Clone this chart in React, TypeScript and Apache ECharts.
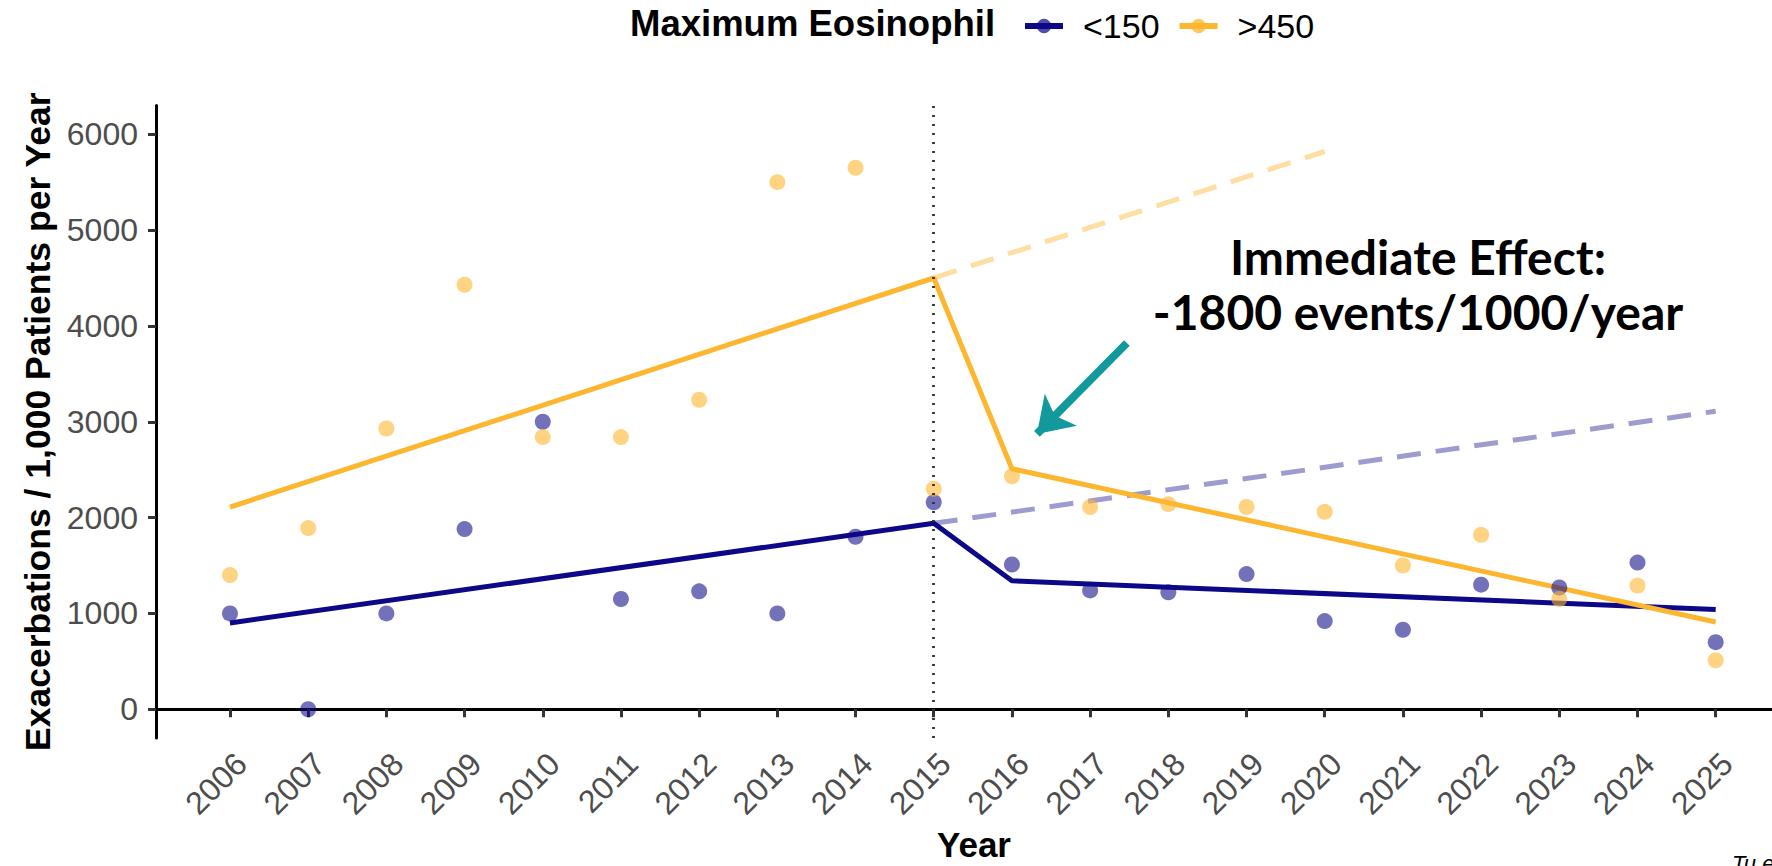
import React, { useEffect, useRef } from "react";
import * as echarts from "echarts";

// Observed yearly exacerbation rates (per 1,000 patients per year)
const years = [2006, 2007, 2008, 2009, 2010, 2011, 2012, 2013, 2014, 2015, 2016, 2017, 2018, 2019, 2020, 2021, 2022, 2023, 2024, 2025];
const lowEos = [1000, 0, 1000, 1880, 3000, 1150, 1230, 1000, 1800, 2160, 1510, 1240, 1220, 1410, 920, 830, 1300, 1270, 1530, 700];
const highEos = [1400, 1890, 2930, 4430, 2840, 2840, 3230, 5500, 5650, 2300, 2430, 2110, 2140, 2110, 2060, 1500, 1820, 1150, 1290, 510];

// Segmented-regression fits: [year, rate]
const lowFit = [[2006, 900], [2015, 1940], [2016, 1340], [2025, 1040]];
const highFit = [[2006, 2110], [2015, 4500], [2016, 2510], [2025, 910]];
// Projected pre-intervention trends
const lowTrend = [[2015, 1940], [2025, 3110]];
const highTrend = [[2015, 4500], [2020, 5820]];

const yTicks = [0, 1000, 2000, 3000, 4000, 5000, 6000];
const seriesNames = ["<150", ">450"];
const interventionYear = 2015;

const NAVY = "#0D0887";
const GOLD = "#FDB62F";
const NAVY_PT = "rgba(13,8,135,0.72)";
const GOLD_PT = "rgba(253,182,47,0.75)";
const SANS = "'Liberation Sans', Arial, Helvetica, sans-serif";

export default function App() {
  const ref = useRef<HTMLDivElement>(null);

  useEffect(() => {
    if (!ref.current) return;
    const chart = echarts.init(ref.current, null, { renderer: "svg" });

    const option = {
      animation: false,
      backgroundColor: "#ffffff",
      grid: { left: 156, right: 0, top: 105.5, bottom: 128, containLabel: false, outerBoundsMode: "none" },
      legend: {
        data: [
          { name: seriesNames[0], lineStyle: { color: NAVY, width: 6 }, itemStyle: { color: NAVY_PT } },
          { name: seriesNames[1], lineStyle: { color: GOLD, width: 6 }, itemStyle: { color: GOLD_PT } },
        ],
        left: 1017,
        top: 4,
        itemWidth: 38,
        itemHeight: 18,
        itemGap: 17,
        textStyle: { fontSize: 34, fontFamily: SANS, color: "#000", padding: [0, 0, 0, 15] },
      },
      xAxis: {
        type: "value",
        min: 2005.054,
        max: 2025.72,
        name: "Year",
        nameLocation: "middle",
        nameGap: 89,
        nameTextStyle: { fontSize: 35, fontWeight: "bold", fontFamily: SANS, color: "#000", padding: [0, 0, 0, 20] },
        splitLine: { show: false },
        axisLine: { lineStyle: { color: "#000", width: 3 } },
        axisTick: { customValues: years, length: 8, lineStyle: { color: "#333", width: 3 } },
        axisLabel: {
          customValues: years,
          rotate: 45,
          margin: 9,
          verticalAlign: "top",
          fontSize: 32,
          fontFamily: SANS,
          color: "#4D4D4D",
          formatter: (v: number) => String(Math.round(v)),
        },
      },
      yAxis: {
        type: "value",
        min: -300,
        max: 6300,
        name: "Exacerbations / 1,000 Patients per Year",
        nameLocation: "middle",
        nameRotate: 90,
        nameGap: 90,
        nameTextStyle: { fontSize: 35.5, fontWeight: "bold", fontFamily: SANS, color: "#000" },
        splitLine: { show: false },
        axisLine: { show: true, lineStyle: { color: "#000", width: 3 } },
        axisTick: { show: true, customValues: yTicks, length: 8, lineStyle: { color: "#333", width: 3 } },
        axisLabel: {
          customValues: yTicks,
          margin: 18,
          fontSize: 32,
          fontFamily: SANS,
          color: "#4D4D4D",
          formatter: (v: number) => String(Math.round(v)),
        },
      },
      graphic: [
        {
          type: "text",
          left: 630,
          top: 5,
          style: { text: "Maximum Eosinophil", font: `bold 36.5px ${SANS}`, fill: "#000" },
        },
        {
          type: "text",
          x: 1418,
          y: 284,
          style: {
            text: "Immediate Effect:\n-1800 events/1000/year",
            font: "bold 48px Lato, 'Open Sans', sans-serif",
            fill: "#000",
            textAlign: "center",
            textVerticalAlign: "middle",
            lineHeight: 55,
          },
        },
        {
          type: "text",
          x: 1732,
          y: 852,
          style: { text: "Tu et al.", font: `italic 22px ${SANS}`, fill: "#000" },
        },
      ],
      series: [
        {
          name: seriesNames[0],
          type: "line",
          data: lowFit,
          symbol: "circle",
          showSymbol: false,
          itemStyle: { color: NAVY_PT },
          lineStyle: { color: NAVY, width: 5 },
          z: 3,
          markLine: {
            silent: true,
            symbol: ["none", "none"],
            label: { show: false },
            lineStyle: { color: "#333", width: 2.8, type: [2, 7] },
            data: [{ xAxis: interventionYear }],
          },
        },
        {
          name: seriesNames[1],
          type: "line",
          data: highFit,
          symbol: "circle",
          showSymbol: false,
          itemStyle: { color: GOLD_PT },
          lineStyle: { color: GOLD, width: 5 },
          z: 3,
          markLine: {
            silent: true,
            symbol: ["none", "arrow"],
            symbolSize: 34,
            label: { show: false },
            lineStyle: { color: "#12999C", width: 8, type: "solid" },
            itemStyle: { color: "#12999C" },
            data: [[{ coord: [2017.47, 3822] }, { coord: [2016.32, 2873] }]],
          },
        },
        {
          name: "<150 trend",
          type: "line",
          data: lowTrend,
          showSymbol: false,
          lineStyle: { color: "rgba(13,8,135,0.4)", width: 5, type: [24, 15] },
          z: 2,
        },
        {
          name: ">450 trend",
          type: "line",
          data: highTrend,
          showSymbol: false,
          lineStyle: { color: "rgba(253,182,47,0.45)", width: 5, type: [24, 15] },
          z: 2,
        },
        {
          name: seriesNames[0],
          type: "scatter",
          data: years.map((y, i) => [y, lowEos[i]]),
          symbolSize: 16,
          itemStyle: { color: NAVY_PT },
          z: 4,
        },
        {
          name: seriesNames[1],
          type: "scatter",
          data: years.map((y, i) => [y, highEos[i]]),
          symbolSize: 16,
          itemStyle: { color: GOLD_PT },
          z: 4,
        },
      ],
    };

    chart.setOption(option as any);
    return () => chart.dispose();
  }, []);

  return (
    <div
      ref={ref}
      style={{ position: "fixed", left: 0, top: 0, width: 1772, height: 866, background: "#fff" }}
    />
  );
}
